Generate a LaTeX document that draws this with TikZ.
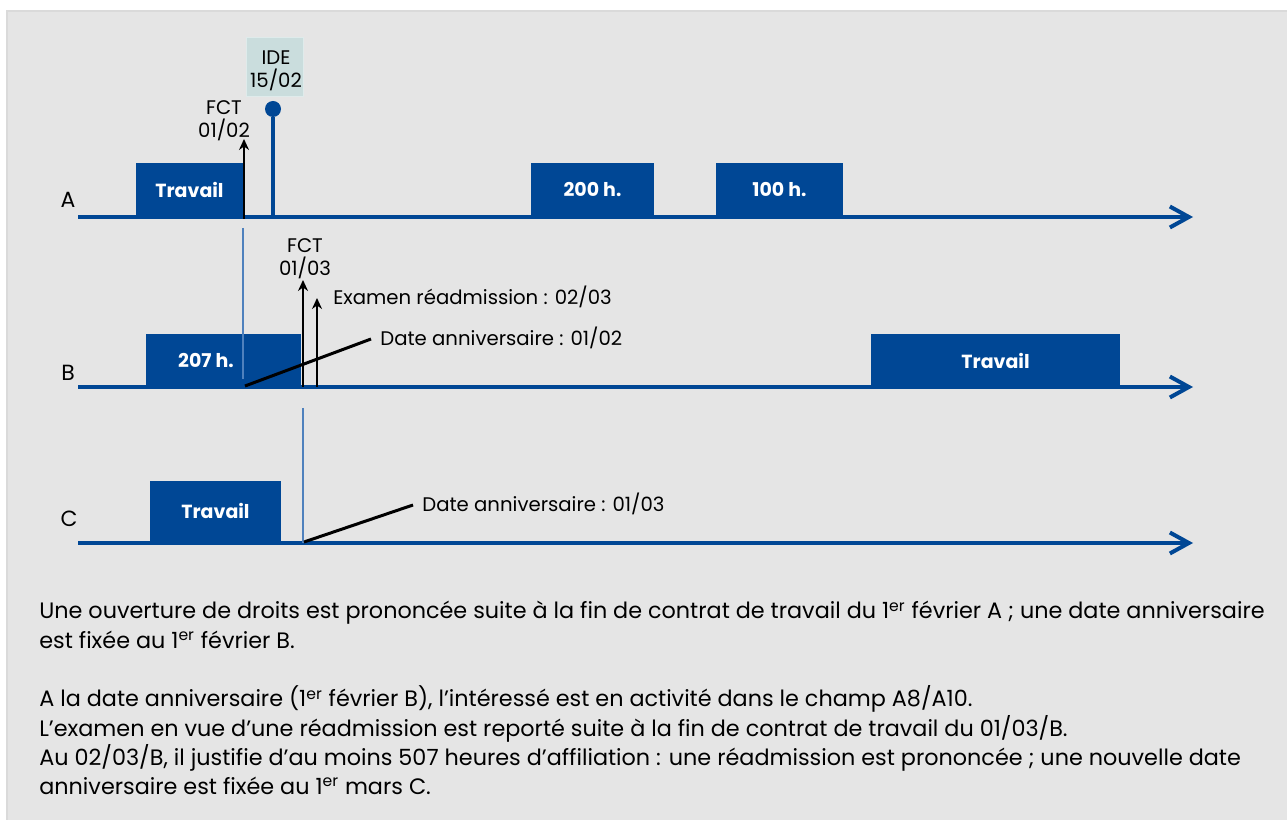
\documentclass[tikz,border=0pt]{standalone}
\usepackage{fontspec}
\setmainfont{Poppins}
\usetikzlibrary{arrows.meta}

\definecolor{bleuaxe}{HTML}{004795}
\definecolor{bleuclair}{HTML}{4F81BD}
\definecolor{fondgris}{HTML}{E5E5E5}
\definecolor{fondide}{HTML}{CADDDD}

\tikzstyle{txt} = [text centered, inner sep=0pt, font=\fontsize{11.2}{13}\selectfont]
\tikzstyle{nom} = [text centered, inner sep=0pt, font=\fontsize{12.5}{14}\selectfont]
\tikzstyle{txtg} = [inner sep=0pt, anchor=west, font=\fontsize{11.2}{13}\selectfont]
\tikzstyle{bloc} = [fill=bleuaxe, inner sep=0pt, text=white, font=\fontsize{10.8}{12}\selectfont\bfseries]
\tikzstyle{axe} = [draw=bleuaxe, line width=0.07cm, -{Straight Barb[length=0.38cm,width=0.42cm,line width=0.08cm]}]
\tikzstyle{fleche} = [draw=black, line width=0.055cm, -{Stealth[length=0.22cm,width=0.2cm]}]
\tikzstyle{trait} = [draw=black, line width=0.06cm]
\tikzstyle{repere} = [draw=bleuclair, line width=0.04cm]

\begin{document}
\begin{tikzpicture}[x=0.02cm, y=-0.02cm]

\useasboundingbox (0,0) rectangle (1287,820);
\fill[white] (0,0) rectangle (1287,820);
\fill[fondgris!95!black] (6,10) rectangle (1287,820);
\fill[fondgris] (8,12) rectangle (1287,820);

%AXE A
\coordinate (axeAd) at (78,217);
\coordinate (axeAf) at (1193,217);
\node[nom] (nomA) at (68,200) {A};
\node[bloc, minimum width=2.14cm, minimum height=1.08cm] (travailA) at (189.5,190) {\raisebox{-0.05cm}{Travail}};
\node[bloc, minimum width=2.46cm, minimum height=1.08cm] (heures200) at (592.5,190) {\raisebox{-0.05cm}{200 h.}};
\node[bloc, minimum width=2.54cm, minimum height=1.08cm] (heures100) at (779.5,190) {\raisebox{-0.05cm}{100 h.}};
\draw[axe] (axeAd) -- (axeAf);

\coordinate (fctAd) at (244,219);
\coordinate (fctAf) at (244,139);
\draw[fleche] (fctAd) -- (fctAf);
\node[txt, align=center] (fctA) at (224,120.5) {FCT\\01/02};

\node[fill=fondide, draw=fondide!60!white, line width=0.02cm, inner sep=0pt, minimum width=1.16cm, minimum height=1.18cm] (ide) at (275,67.5) {};
\node[txt, align=center] (idetxt) at (276,71) {IDE\\15/02};
\node[circle, fill=bleuaxe, inner sep=0pt, minimum size=0.32cm] (pointide) at (273,109) {};
\coordinate (ideb) at (273,217);
\draw[draw=bleuaxe, line width=0.08cm] (pointide) -- (ideb);

%AXE B
\coordinate (axeBd) at (78,387);
\coordinate (axeBf) at (1193,387);
\node[nom] (nomB) at (68,373) {B};
\node[bloc, minimum width=3.1cm, minimum height=1.06cm] (heures207) at (223.5,360.5) {\hspace{-0.7cm}\raisebox{-0.05cm}{207 h.}};
\node[bloc, minimum width=4.98cm, minimum height=1.06cm] (travailB) at (995.5,360.5) {\raisebox{-0.05cm}{Travail}};
\draw[axe] (axeBd) -- (axeBf);

\coordinate (repAh) at (243,228);
\coordinate (repAb) at (243,379);
\draw[repere] (repAh) -- (repAb);

\coordinate (fctBd) at (303,387);
\coordinate (fctBf) at (303,280);
\draw[fleche] (fctBd) -- (fctBf);
\node[txt, align=center] (fctB) at (305,259) {FCT\\01/03};

\coordinate (examd) at (317,387);
\coordinate (examf) at (317,298);
\draw[fleche] (examd) -- (examf);
\node[txtg] (examen) at (333,297) {Examen réadmission : 02/03};

\coordinate (dateBd) at (245,386);
\coordinate (dateBf) at (371,339);
\draw[trait] (dateBd) -- (dateBf);
\node[txtg] (dateB) at (380,338) {Date anniversaire : 01/02};

%AXE C
\coordinate (axeCd) at (78,543);
\coordinate (axeCf) at (1193,543);
\node[nom] (nomC) at (69,519) {C};
\node[bloc, minimum width=2.62cm, minimum height=1.24cm] (travailC) at (215.5,512) {\raisebox{0.03cm}{Travail}};
\draw[axe] (axeCd) -- (axeCf);

\coordinate (repBh) at (303,408);
\coordinate (repBb) at (303,543);
\draw[repere] (repBh) -- (repBb);

\coordinate (dateCd) at (304,542);
\coordinate (dateCf) at (413,505);
\draw[trait] (dateCd) -- (dateCf);
\node[txtg] (dateC) at (422,504) {Date anniversaire : 01/03};

%TEXTE
\node[anchor=north west, inner sep=0pt, align=left, font=\fontsize{12.7}{16.68}\selectfont] (commentaire) at (39,601) {%
Une ouverture de droits est prononcée suite à la fin de contrat de travail du 1\textsuperscript{er} février A ; une date anniversaire\\
est fixée au 1\textsuperscript{er} février B.\\[16.68pt]
A la date anniversaire (1\textsuperscript{er} février B), l’intéressé est en activité dans le champ A8/A10.\\
L’examen en vue d’une réadmission est reporté suite à la fin de contrat de travail du 01/03/B.\\
Au 02/03/B, il justifie d’au moins 507 heures d’affiliation : une réadmission est prononcée ; une nouvelle date\\
anniversaire est fixée au 1\textsuperscript{er} mars C.};

\end{tikzpicture}
\end{document}
